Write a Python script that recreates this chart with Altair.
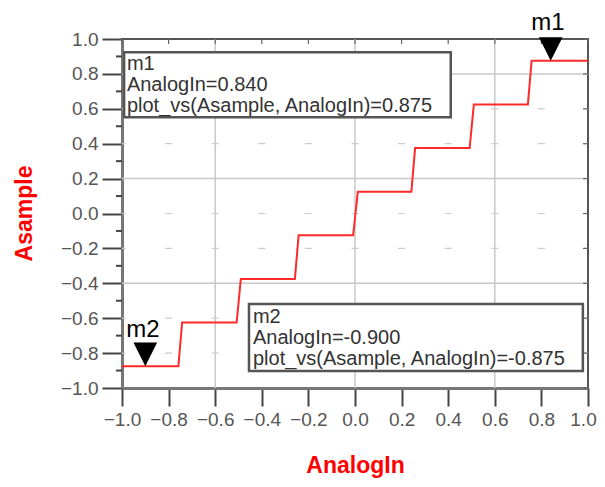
import altair as alt
import pandas as pd

# ---- data ----
analog_in = [-1.0, -0.758, -0.742, -0.508, -0.49, -0.258, -0.242, -0.008, 0.012,
             0.242, 0.258, 0.492, 0.51, 0.742, 0.758, 1.0]
asample = [-0.875, -0.875, -0.625, -0.625, -0.375, -0.375, -0.125, -0.125, 0.125,
           0.125, 0.375, 0.375, 0.625, 0.625, 0.875, 0.875]

marker_names = ["m1", "m2"]
marker_x = [0.84, -0.9]
marker_y = [0.875, -0.875]

tick_vals = [-1.0, -0.8, -0.6, -0.4, -0.2, 0.0, 0.2, 0.4, 0.6, 0.8, 1.0]
minor_y = [-0.9, -0.7, -0.5, -0.3, -0.1, 0.1, 0.3, 0.5, 0.7, 0.9]
grid_x = [-0.6, 0.0, 0.6]
grid_y = [0.8, 0.2, -0.4]
dash_y = [0.6, 0.4, 0.0, -0.2, -0.6, -0.8]

box_x1 = [-0.991, -0.455]
box_x2 = [0.411, 0.978]
box_y1 = [0.924, -0.519]
box_y2 = [0.551, -0.903]

ann_text = ["m1", "AnalogIn=0.840", "plot_vs(Asample, AnalogIn)=0.875",
            "m2", "AnalogIn=-0.900", "plot_vs(Asample, AnalogIn)=-0.875"]
ann_x = [-0.979, -0.979, -0.979, -0.438, -0.438, -0.438]
ann_y = [0.857, 0.737, 0.617, -0.593, -0.713, -0.833]

label_x = [0.828, -0.91]
label_y = [1.09, -0.665]

FONT = "Liberation Sans"
xs = alt.Scale(domain=[-1, 1], nice=False, zero=False)
ys = alt.Scale(domain=[-1, 1], nice=False, zero=False)

x_axis = alt.Axis(
    values=tick_vals, format=".1f", tickSize=18, tickWidth=2, tickColor="#444",
    domainColor="#777", domainWidth=3, labelFontSize=19, labelColor="#555",
    labelFont=FONT, labelPadding=4, labelFlush=False, labelOverlap=False,
    labelOffset={"condition": {"test": "datum.value >= 1", "value": -5}, "value": 0},
    grid=False, title="AnalogIn", titleColor="#ff0000", titleFontSize=23,
    titleFont=FONT, titleFontWeight="bold", titleX=233, titleY=84,
    titleBaseline="alphabetic", titleAlign="center")
y_axis = alt.Axis(
    values=tick_vals, format=".1f", tickSize=20, tickWidth=2, tickColor="#444",
    domainColor="#777", domainWidth=3, labelFontSize=19, labelColor="#555",
    labelFont=FONT, labelPadding=4, labelFlush=False, labelOverlap=False,
    grid=False, title="Asample", titleColor="#ff0000", titleFontSize=23,
    titleFont=FONT, titleFontWeight="bold", titleX=-91, titleY=174,
    titleAngle=270, titleBaseline="alphabetic", titleAlign="center")


def X(f):
    return alt.X(f, scale=xs, axis=x_axis, title="AnalogIn")


def Y(f):
    return alt.Y(f, scale=ys, axis=y_axis, title="Asample")


line_df = pd.DataFrame({"AnalogIn": analog_in, "Asample": asample})
mark_df = pd.DataFrame({"name": marker_names, "x": marker_x, "y": marker_y,
                        "lx": label_x, "ly": label_y})
box_df = pd.DataFrame({"x1": box_x1, "x2": box_x2, "y1": box_y1, "y2": box_y2})
ann_df = pd.DataFrame({"t": ann_text, "x": ann_x, "y": ann_y})

vgrid = alt.Chart(pd.DataFrame({"v": grid_x})).mark_rule(
    color="#c8c8c8", strokeWidth=1.5).encode(x=X("v:Q"))
hgrid = alt.Chart(pd.DataFrame({"v": grid_y})).mark_rule(
    color="#c8c8c8", strokeWidth=1.5).encode(y=Y("v:Q"))
dgrid = alt.Chart(pd.DataFrame({"v": dash_y})).mark_rule(
    color="#cccccc", strokeWidth=1.2, strokeDash=[7, 39.6], strokeDashOffset=3.5
).encode(y=Y("v:Q"))

top_ticks = alt.Chart(pd.DataFrame({"v": tick_vals})).mark_rule(
    color="#666", strokeWidth=1.2).encode(
    x=X("v:Q"), y=alt.value(0), y2=alt.value(5))
right_ticks = alt.Chart(pd.DataFrame({"v": tick_vals})).mark_rule(
    color="#666", strokeWidth=1.2).encode(
    y=Y("v:Q"), x=alt.value(466), x2=alt.value(461))
minor_ticks = alt.Chart(pd.DataFrame({"v": minor_y})).mark_rule(
    color="#444", strokeWidth=2).encode(
    y=Y("v:Q"), x=alt.value(-6), x2=alt.value(0))

boxes = alt.Chart(box_df).mark_rect(fill="white", stroke="#555", strokeWidth=2.5).encode(
    x=X("x1:Q"), x2="x2:Q", y=Y("y1:Q"), y2="y2:Q")

line = alt.Chart(line_df).mark_line(color="#ff2a2a", strokeWidth=2).encode(
    x=X("AnalogIn:Q"), y=Y("Asample:Q"), order=alt.Order("AnalogIn:Q"))

ann = alt.Chart(ann_df).mark_text(
    align="left", baseline="middle", font=FONT, fontSize=20, color="#333").encode(
    x=X("x:Q"), y=Y("y:Q"), text="t:N")

tri = alt.Chart(mark_df).mark_point(
    shape="M-1,-2L1,-2L0,0Z", filled=True, color="black", opacity=1, size=560,
    strokeWidth=0).encode(x=X("x:Q"), y=Y("y:Q"))

tri_lab = alt.Chart(mark_df).mark_text(
    align="center", baseline="middle", font=FONT, fontSize=24, color="black").encode(
    x=X("lx:Q"), y=Y("ly:Q"), text="name:N")

chart = alt.layer(
    vgrid, hgrid, dgrid, top_ticks, right_ticks, boxes, line, minor_ticks,
    ann, tri, tri_lab
).properties(
    width=466, height=349,
    autosize=alt.AutoSizeParams(type="none"),
    padding={"left": 114, "top": 31, "right": 9, "bottom": 91},
).configure_view(stroke="#555", strokeWidth=2)

chart.save("out.html", embed_options={"renderer": "svg", "actions": False})
